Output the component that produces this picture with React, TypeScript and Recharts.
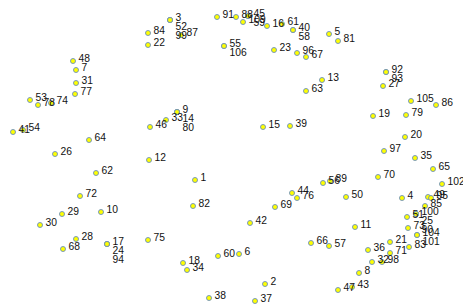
import React from "react";
import { ScatterChart, Scatter, XAxis, YAxis, LabelList } from "recharts";

document.body.style.margin = "0";

// point ids, in drawing order (points sharing a spot are listed in label order)
const pointIds = [
  1, 2, 3, 52, 99, 4, 5, 6, 7, 8, 9, 14, 80, 10, 11, 12, 13, 15, 16, 17, 24, 94,
  18, 19, 20, 21, 22, 23, 26, 27, 28, 29, 30, 31, 32, 33, 34, 35, 36, 37, 38, 39,
  40, 58, 41, 42, 43, 44, 45, 59, 46, 47, 48, 49, 50, 51, 53, 54, 55, 106, 56, 57,
  60, 61, 62, 63, 64, 65, 66, 67, 68, 69, 70, 71, 72, 73, 74, 75, 76, 77, 78, 79,
  81, 82, 83, 84, 85, 86, 87, 88, 89, 100, 25, 90, 91, 92, 93, 95, 96, 97, 98,
  102, 104, 101, 105, 109,
];

// horizontal position of each point (same order as pointIds)
const pointX = [
  195, 265, 170, 170, 170, 402, 329, 239, 76, 359, 177, 177, 177, 101, 355, 149, 322, 263, 267, 107, 107, 107,
  183, 373, 405, 390, 148, 274, 55, 383, 76, 62, 40, 76, 372, 166, 187, 415, 368, 255, 209, 290,
  293, 293, 13, 250, 352, 292, 248, 248, 150, 338, 73, 428, 346, 407, 30, 23, 224, 224, 323, 329,
  218, 282, 96, 306, 89, 433, 311, 306, 63, 275, 378, 390, 80, 408, 51, 148, 297, 75, 38, 406,
  338, 193, 409, 148, 425, 436, 181, 236, 330, 416, 416, 416, 217, 386, 386, 431, 297, 384, 382,
  442, 417, 417, 411, 243,
];

// vertical position of each point, measured from the top
const pointY = [
  180, 284, 20, 20, 20, 198, 34, 254, 70, 273, 112, 112, 112, 212, 227, 160, 80, 127, 26, 244, 244, 244,
  263, 116, 137, 242, 45, 50, 154, 86, 239, 214, 225, 83, 262, 120, 270, 158, 250, 301, 298, 126,
  30, 30, 132, 223, 287, 193, 16, 16, 127, 290, 61, 197, 197, 217, 100, 130, 46, 46, 183, 246,
  256, 24, 173, 91, 140, 169, 243, 57, 249, 207, 177, 253, 196, 228, 103, 240, 198, 94, 105, 115,
  41, 206, 247, 33, 206, 105, 35, 17, 181, 214, 214, 214, 17, 72, 72, 198, 53, 151, 262,
  184, 235, 235, 101, 22,
];

const seen: Record<string, number> = {};
const data = pointIds.map((id, i) => {
  const key = pointX[i] + "," + pointY[i];
  const stack = seen[key] ?? 0;
  seen[key] = stack + 1;
  return { id, x: pointX[i], y: pointY[i], stack };
});

const Dot = (props: any) => {
  const { cx, cy } = props;
  return <circle cx={cx} cy={cy} r={2.5} fill="#ffff00" stroke="#6a8fc0" strokeWidth={0.9} />;
};

const PointLabel = (props: any) => {
  const { x, y, width, height, index } = props;
  const d = data[index];
  if (!d) return null;
  const cx = x + (width || 0) / 2;
  const cy = y + (height || 0) / 2;
  return (
    <text
      x={cx + 5.5}
      y={cy - 2 + d.stack * 9}
      fontSize={10.3}
      fontFamily="Liberation Sans, Arial, sans-serif"
      fill="#111"
      dominantBaseline="middle"
    >
      {d.id}
    </text>
  );
};

export default function App() {
  return (
    <ScatterChart width={463} height={307} margin={{ top: 0, right: 0, bottom: 0, left: 0 }}>
      <XAxis type="number" dataKey="x" domain={[0, 463]} hide />
      <YAxis type="number" dataKey="y" domain={[0, 307]} reversed hide />
      <Scatter data={data} shape={<Dot />} isAnimationActive={false}>
        <LabelList dataKey="id" content={<PointLabel />} />
      </Scatter>
    </ScatterChart>
  );
}
